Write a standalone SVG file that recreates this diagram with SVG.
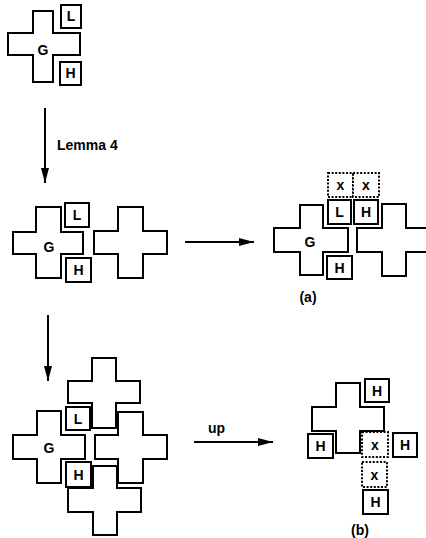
<svg xmlns="http://www.w3.org/2000/svg" width="426" height="538" viewBox="0 0 426 538">
<style>
.cr{fill:none;stroke:#000;stroke-width:2;stroke-linejoin:miter}
.bx{fill:#fff;stroke:#000;stroke-width:2}
.dx{fill:#fff;stroke:#000;stroke-width:2;stroke-dasharray:2 1.6}
.t{font-family:"Liberation Sans",Arial,sans-serif;font-weight:bold;font-size:14px;text-anchor:middle;fill:#000}
.lb{font-family:"Liberation Sans",Arial,sans-serif;font-weight:bold;font-size:14px;fill:#000}
.ar{stroke:#000;stroke-width:2;fill:none}
</style>
<defs>
<marker id="ah" markerUnits="userSpaceOnUse" markerWidth="16" markerHeight="10" refX="15" refY="5" orient="auto">
<path d="M0,1 L15,5 L0,9 Z" fill="#000"/>
</marker>
</defs>
<g id="connectors">
<line class="ar" x1="45" y1="108" x2="45" y2="183" marker-end="url(#ah)"/>
<line class="ar" x1="48" y1="315" x2="48" y2="381" marker-end="url(#ah)"/>
<line class="ar" x1="185" y1="242" x2="254" y2="242" marker-end="url(#ah)"/>
<line class="ar" x1="194" y1="442" x2="273" y2="442" marker-end="url(#ah)"/>
<text class="lb" x="57" y="150" font-size="15">Lemma 4</text>
<text class="lb" x="208" y="433" font-size="15">up</text>
</g>
<g id="top">
<path class="cr" d="M33,11 H53 V33 H80 V55 H53 V82 H33 V55 H8 V33 H33 Z"/>
<text class="t" x="43" y="55" font-size="15">G</text>
<rect class="bx" x="61" y="5" width="20" height="23"/><text class="t" x="71" y="21" font-size="13">L</text>
<rect class="bx" x="60" y="62" width="21" height="23"/><text class="t" x="70.5" y="78" font-size="13">H</text>
</g>
<g id="row2">
<path class="cr" d="M36,207 H61 V232 H83 V254 H61 V278 H36 V254 H13 V232 H36 Z"/>
<text class="t" x="49" y="252" font-size="15">G</text>
<rect class="bx" x="65" y="203" width="24" height="24"/><text class="t" x="77" y="220">L</text>
<rect class="bx" x="66" y="258" width="25" height="24"/><text class="t" x="78.5" y="275">H</text>
<path class="cr" d="M118,207 H143 V231 H167 V254 H143 V278 H118 V254 H94 V231 H118 Z"/>
</g>
<g id="figA">
<path class="cr" d="M300,205 H323 V228 H348 V252 H323 V275 H300 V252 H274 V228 H300 Z"/>
<text class="t" x="310" y="247" font-size="15">G</text>
<path class="cr" d="M440,228 H406 V204 H382 V228 H357 V252 H382 V276 H406 V252 H440"/>
<rect class="dx" x="328" y="173" width="25" height="24"/><text class="t" x="340.5" y="190">x</text>
<rect class="dx" x="353" y="173" width="26" height="24"/><text class="t" x="366" y="190">x</text>
<rect class="bx" x="328" y="200" width="23" height="24"/><text class="t" x="339.5" y="217">L</text>
<rect class="bx" x="354" y="200" width="24" height="24"/><text class="t" x="366" y="217">H</text>
<rect class="bx" x="327" y="256" width="25" height="23"/><text class="t" x="339.5" y="272.5">H</text>
<text class="t" x="308" y="302">(a)</text>
</g>
<g id="row3">
<path class="cr" d="M92,358 H116 V381 H140 V403 H116 V428 H92 V403 H68 V381 H92 Z"/>
<path class="cr" d="M37,411 H61 V435 H85 V459 H61 V483 H37 V459 H13 V435 H37 Z"/>
<text class="t" x="49" y="453" font-size="15">G</text>
<path class="cr" d="M118,412 H143 V435 H167 V459 H143 V483 H118 V459 H95 V435 H118 Z"/>
<path class="cr" d="M93,466 H117 V488 H141 V512 H117 V535 H93 V512 H68 V488 H93 Z"/>
<rect class="bx" x="66" y="407" width="24" height="23"/><text class="t" x="78" y="423.5">L</text>
<rect class="bx" x="66" y="462" width="25" height="25"/><text class="t" x="78.5" y="479.5">H</text>
</g>
<g id="figB">
<path class="cr" d="M336,383 H360 V407 H384 V431 H360 V453 H336 V431 H312 V407 H336 Z"/>
<rect class="bx" x="365" y="379" width="24" height="23"/><text class="t" x="377" y="395.5">H</text>
<rect class="bx" x="308" y="434" width="25" height="24"/><text class="t" x="320.5" y="451">H</text>
<rect class="dx" x="362" y="432" width="26" height="25"/><text class="t" x="375" y="449.5">x</text>
<rect class="bx" x="393" y="433" width="24" height="24"/><text class="t" x="405" y="450">H</text>
<rect class="dx" x="362" y="462" width="25" height="25"/><text class="t" x="374.5" y="479.5">x</text>
<rect class="bx" x="363" y="490" width="25" height="24"/><text class="t" x="375.5" y="507">H</text>
<text class="t" x="360" y="535">(b)</text>
</g>
</svg>
